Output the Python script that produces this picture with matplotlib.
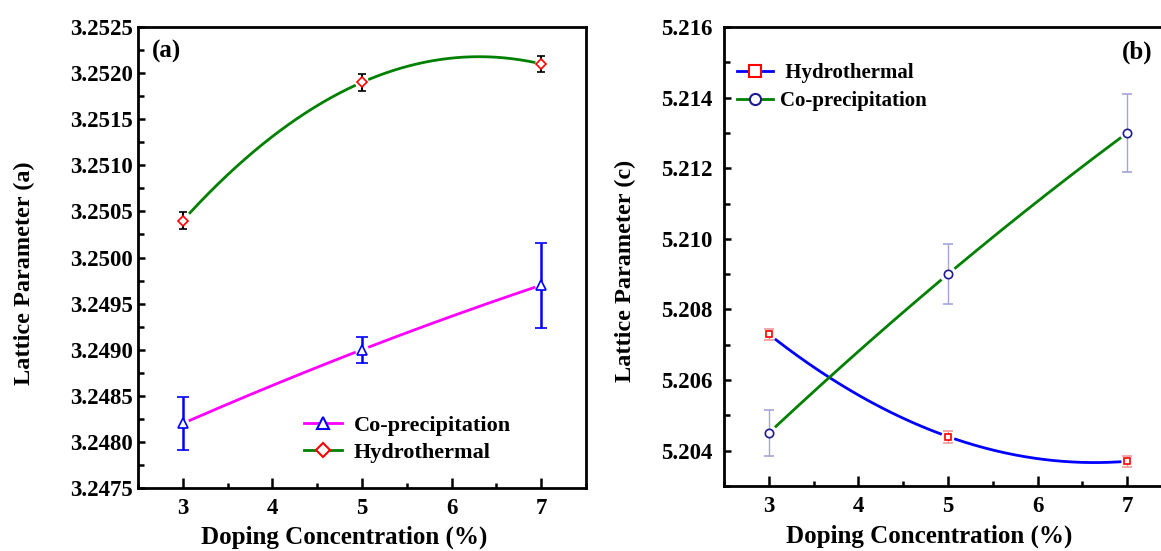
import numpy as np
import matplotlib
matplotlib.use("Agg")
import matplotlib.pyplot as plt
from matplotlib.lines import Line2D
from matplotlib.ticker import MultipleLocator, FormatStrFormatter

# ============================================================
# 폰트 / 스타일
# ============================================================
plt.rcParams['font.family'] = 'serif'
plt.rcParams['font.serif'] = ['Liberation Serif', 'DejaVu Serif']
plt.rcParams['font.weight'] = 'bold'
plt.rcParams['axes.labelweight'] = 'bold'

# ============================================================
# 데이터
# ============================================================
doping = [3, 5, 7]

# (a) lattice parameter a
a_coprec = [3.2482, 3.2490, 3.2497]
a_coprec_err = [0.00029, 0.00014, 0.00046]
a_hydro = [3.2504, 3.2519, 3.2521]
a_hydro_err = [0.00009, 0.00009, 0.00009]

# (b) lattice parameter c
c_hydro = [5.2073, 5.2044, 5.2037]
c_hydro_err = [0.00016, 0.00017, 0.00016]
c_coprec = [5.2045, 5.2090, 5.2130]
c_coprec_err = [0.00064, 0.00084, 0.0011]

GREEN = '#008000'
MAGENTA = '#ff00ff'
BLUE = '#0000ff'
RED = '#ff0000'
NAVY = '#1c1c90'

TICK_FS = 16.5
LABEL_FS = 18


def smooth_curve(ax, x, y, color, gap=0.08):
    """데이터 점을 지나는 부드러운 곡선 (심볼 주변은 비움)"""
    coef = np.polyfit(x, y, len(x) - 1)
    xs = np.linspace(min(x), max(x), 500)
    ys = np.polyval(coef, xs)
    near = np.min(np.abs(xs[:, None] - np.array(x)[None, :]), axis=1) < gap
    ys[near] = np.nan
    ax.plot(xs, ys, color=color, lw=2.0, zorder=2)


def style_axis(ax, xpad, ypad):
    for s in ax.spines.values():
        s.set_linewidth(2.0)
    ax.xaxis.set_major_locator(MultipleLocator(1))
    ax.xaxis.set_minor_locator(MultipleLocator(0.5))
    ax.tick_params(axis='both', which='both', direction='in', width=1.8,
                   top=False, right=False, labelsize=TICK_FS)
    ax.tick_params(axis='x', which='major', length=7, pad=xpad)
    ax.tick_params(axis='x', which='minor', length=3.5)
    ax.tick_params(axis='y', which='major', length=5, pad=ypad)
    ax.tick_params(axis='y', which='minor', length=4)
    ax.set_xlim(2.5, 7.5)


fig = plt.figure(figsize=(11.61, 5.51), dpi=100)
ax1 = fig.add_axes([138 / 1161, 63 / 551, 448 / 1161, 461 / 551])
ax2 = fig.add_axes([724 / 1161, 65 / 551, 448 / 1161, 459 / 551])

# ========================================
# (a)
# ========================================
smooth_curve(ax1, doping, a_hydro, GREEN)
smooth_curve(ax1, doping, a_coprec, MAGENTA)
ax1.errorbar(doping, a_hydro, yerr=a_hydro_err, fmt='D', ms=5, mfc='white',
             mec=RED, mew=1.2, ecolor='black', elinewidth=1.5, capsize=3,
             capthick=1.5, zorder=3)
ax1.errorbar(doping, a_coprec, yerr=a_coprec_err, fmt='^', ms=7, mfc='white',
             mec=BLUE, mew=1.2, ecolor=BLUE, elinewidth=1.8, capsize=4,
             capthick=1.8, zorder=3)

style_axis(ax1, xpad=7, ypad=3.5)
ax1.set_ylim(3.2475, 3.2525)
ax1.yaxis.set_major_locator(MultipleLocator(0.0005))
ax1.yaxis.set_minor_locator(MultipleLocator(0.00025))
ax1.yaxis.set_major_formatter(FormatStrFormatter('%.4f'))

ax1.set_ylabel('Lattice Parameter (a)', fontsize=17.5)
ax1.yaxis.set_label_coords(-0.23, 0.466)
ax1.set_xlabel('Doping Concentration (%)', fontsize=LABEL_FS)
ax1.xaxis.set_label_coords(0.461, -0.12)
ax1.xaxis.label.set_va('baseline')
ax1.text(0.031, 0.946, '(a)', transform=ax1.transAxes, fontsize=18,
         fontweight='bold', ha='left', va='center')

h1 = [Line2D([], [], color=MAGENTA, lw=2, marker='^', ms=9, mfc='white', mec=BLUE, mew=1.5),
      Line2D([], [], color=GREEN, lw=2, marker='D', ms=7, mfc='white', mec=RED, mew=1.5)]
ax1.legend(h1, ['Co-precipitation', 'Hydrothermal'], loc='upper left',
           bbox_to_anchor=(0.3705, 0.158), frameon=False, fontsize=16,
           handlelength=1.7, handletextpad=0.55, labelspacing=0.3,
           borderpad=0, borderaxespad=0)

# ========================================
# (b)
# ========================================
smooth_curve(ax2, doping, c_hydro, BLUE)
smooth_curve(ax2, doping, c_coprec, GREEN)
ax2.errorbar(doping, c_hydro, yerr=c_hydro_err, fmt='s', ms=5, mfc='white',
             mec=RED, mew=1.2, ecolor='#f29a9a', elinewidth=1.0, capsize=3.5,
             capthick=1.0, zorder=3)
ax2.errorbar(doping, c_coprec, yerr=c_coprec_err, fmt='o', ms=6, mfc='white',
             mec=NAVY, mew=1.2, ecolor='#a4a4d8', elinewidth=1.0, capsize=3.5,
             capthick=1.0, zorder=3)

style_axis(ax2, xpad=7, ypad=8)
ax2.set_ylim(5.203, 5.216)
ax2.yaxis.set_major_locator(MultipleLocator(0.002))
ax2.yaxis.set_minor_locator(MultipleLocator(0.001))
ax2.yaxis.set_major_formatter(FormatStrFormatter('%.3f'))

ax2.set_ylabel('Lattice Parameter (c)', fontsize=17.5)
ax2.yaxis.set_label_coords(-0.196, 0.468)
ax2.set_xlabel('Doping Concentration (%)', fontsize=LABEL_FS)
ax2.xaxis.set_label_coords(0.4576, -0.124)
ax2.xaxis.label.set_va('baseline')
ax2.text(0.888, 0.9455, '(b)', transform=ax2.transAxes, fontsize=18,
         fontweight='bold', ha='left', va='center')

h2 = [Line2D([], [], color=BLUE, lw=2, marker='s', ms=8, mfc='white', mec=RED, mew=1.5),
      Line2D([], [], color=GREEN, lw=2, marker='o', ms=8, mfc='white', mec=NAVY, mew=1.5)]
ax2.legend(h2, [' Hydrothermal', 'Co-precipitation'], loc='upper left',
           bbox_to_anchor=(0.029, 0.921), frameon=False, fontsize=15,
           handlelength=1.73, handletextpad=0.34, labelspacing=0.38,
           borderpad=0, borderaxespad=0)

fig.savefig('out.png', dpi=100)
